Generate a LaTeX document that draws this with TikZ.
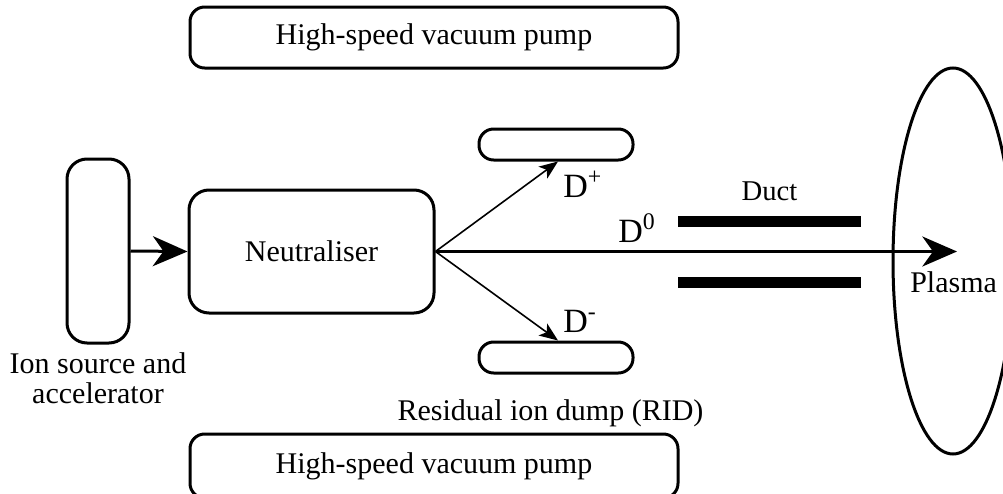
\documentclass[tikz,border=0pt]{standalone}
\usepackage{fontspec}
\setmainfont{Liberation Serif}
\usepackage{tikz}
\usetikzlibrary{positioning,arrows.meta,shapes.geometric}

\begin{document}
\begin{tikzpicture}[
  x=0.75pt,
  y=-0.75pt,
  every node/.style={font=\fontsize{22.5}{22.5}\selectfont, inner sep=0pt},
  blockbox/.style={draw, line width=2.25pt, rounded corners=#1},
  ductbar/.style={fill=black, minimum width=137.25pt, minimum height=8.25pt},
  beam/.style={line width=2.25pt, -{Stealth[length=26pt, width=22.5pt, inset=8pt]}},
  ionpath/.style={line width=1.2pt, -{Stealth[length=14pt, width=11pt, inset=3.5pt]}},
  species/.style={font=\fontsize{25.5}{25.5}\selectfont, anchor=base west},
]
\path[use as bounding box] (0,0) rectangle (1003,493);

% Pumps.
\node[blockbox=11pt, minimum width=366pt, minimum height=45.75pt] (pumpT) at (434,37.5) {High-speed vacuum pump};
\node[blockbox=11pt, minimum width=366pt, minimum height=48pt] (pumpB) at (434,466) {High-speed vacuum pump};

% Source and neutraliser.
\node[blockbox=15pt, minimum width=46.5pt, minimum height=138pt] (source) at (98,251) {};
\node[anchor=north, align=center] (sourcelab) at (98,352.5) {Ion source and\\accelerator};
\node[blockbox=15pt, minimum width=183.75pt, minimum height=92.25pt] (neutr) at (311.5,251.5) {Neutraliser};

% Residual ion dumps.
\node[blockbox=11pt, minimum width=115.5pt, minimum height=23.25pt] (ridT) at (556,144.5) {};
\node[blockbox=11pt, minimum width=115.5pt, minimum height=23.25pt] (ridB) at (556,357.5) {};
\node[anchor=base] (ridlab) at (550.5,420) {Residual ion dump (RID)};

% Duct and plasma.
\node[ductbar] (ductT) at (769.5,221.5) {};
\node[ductbar] (ductB) at (769.5,282) {};
\node[anchor=base, font=\fontsize{21.5}{21.5}\selectfont] (ductlab) at (769.5,200) {Duct};
\node[draw, ellipse, line width=2.25pt, minimum width=90pt, minimum height=289.5pt] (plasma) at (953,261) {};
\node[anchor=base west] (plasmalab) at (910,292) {Plasma};
\coordinate (target) at (957,251.5);

% Beams.
\draw[beam] (source.east) -- (neutr.west);
\draw[beam] (neutr.east) -- (target);
\draw[ionpath] (neutr.east) -- ([xshift=1.5pt]ridT.south);
\draw[ionpath] (neutr.east) -- ([xshift=1.5pt]ridB.north);

% Species.
\node[species] (dplus) at (563,197) {D\textsuperscript{+}};
\node[species] (dzero) at (618,242) {D\textsuperscript{0}};
\node[species] (dminus) at (563,332) {D\textsuperscript{-}};

\end{tikzpicture}
\end{document}
